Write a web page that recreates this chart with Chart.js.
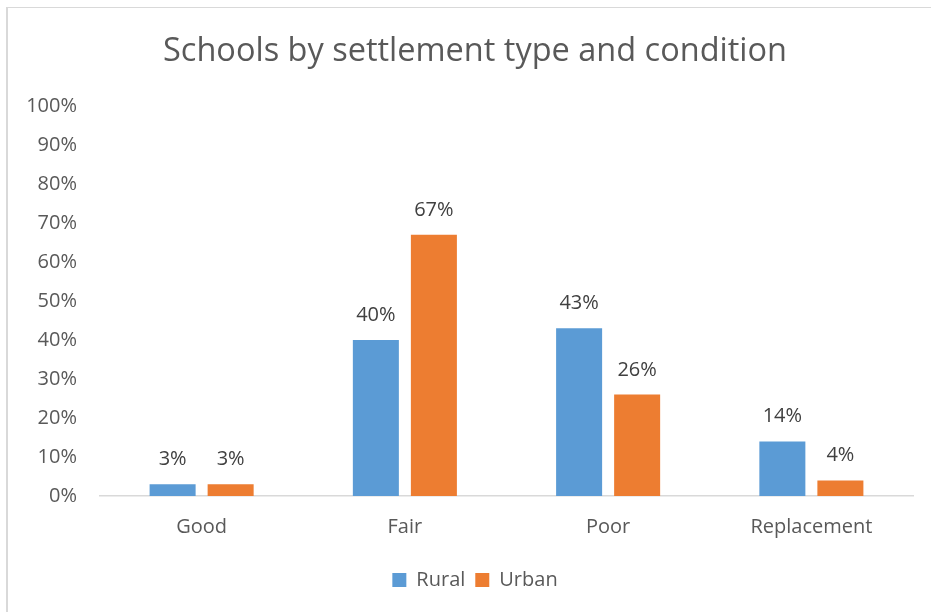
<!DOCTYPE html>
<html>
<head>
<meta charset="utf-8">
<script src="https://cdn.jsdelivr.net/npm/chart.js@4/dist/chart.umd.min.js"></script>
<style>
  html, body { margin: 0; padding: 0; background: #ffffff; overflow: hidden; }
  #frame {
    position: absolute; left: 6px; top: 7px;
    width: 934px; height: 604px;
    border-left: 2px solid #d9d9d9; border-top: 1px solid #d9d9d9;
  }
  #chart { display: block; }
</style>
</head>
<body>
<div id="frame"><canvas id="chart" width="934" height="604"></canvas></div>
<script>
const categories = ['Good', 'Fair', 'Poor', 'Replacement'];
const ruralValues = [3, 40, 43, 14];
const urbanValues = [3, 67, 26, 4];
const seriesNames = ['Rural', 'Urban'];
const yTicks = [0, 10, 20, 30, 40, 50, 60, 70, 80, 90, 100];

const FONT = "'Open Sans', sans-serif";

// Writes each bar's percentage above it
const barValueLabels = {
  id: 'barValueLabels',
  afterDatasetsDraw(chart) {
    const ctx = chart.ctx;
    ctx.save();
    ctx.font = '20px ' + FONT;
    ctx.fillStyle = '#404040';
    ctx.textAlign = 'center';
    ctx.textBaseline = 'alphabetic';
    chart.data.datasets.forEach((ds, i) => {
      chart.getDatasetMeta(i).data.forEach((bar, j) => {
        ctx.fillText(ds.data[j] + '%', bar.x, bar.y - 19);
      });
    });
    ctx.restore();
  }
};

new Chart(document.getElementById('chart'), {
  type: 'bar',
  data: {
    labels: categories,
    datasets: [
      { label: seriesNames[0], data: ruralValues, backgroundColor: '#5B9BD5', borderWidth: 0 },
      { label: seriesNames[1], data: urbanValues, backgroundColor: '#ED7D31', borderWidth: 0 }
    ]
  },
  options: {
    responsive: false,
    animation: false,
    layout: { padding: { left: 0, right: 0, top: 0, bottom: 12 } },
    categoryPercentage: 0.571,
    barPercentage: 0.793,
    plugins: {
      title: {
        display: true,
        text: 'Schools by settlement type and condition',
        color: '#595959',
        font: { family: FONT, size: 32.5, weight: 'normal' },
        padding: { top: 24.5, bottom: 34.5 }
      },
      legend: {
        position: 'bottom',
        labels: {
          color: '#595959',
          font: { family: FONT, size: 20 },
          boxWidth: 14,
          boxHeight: 14,
          padding: 10
        }
      },
      tooltip: { enabled: false }
    },
    scales: {
      x: {
        grid: { display: false },
        border: { display: true, color: '#d9d9d9', width: 1.5 },
        ticks: { color: '#595959', font: { family: FONT, size: 20 }, padding: 11 },
        afterFit(scale) { scale.height = 64; }
      },
      y: {
        min: 0,
        max: 100,
        grid: { display: false },
        border: { display: false },
        afterBuildTicks(scale) { scale.ticks = yTicks.map(v => ({ value: v })); },
        ticks: {
          color: '#595959',
          font: { family: FONT, size: 20 },
          padding: 15,
          callback: v => v + '%'
        },
        afterFit(scale) { scale.width = 92; }
      },
      // empty right-hand margin beside the plot
      yRight: {
        position: 'right',
        min: 0,
        max: 100,
        grid: { display: false },
        border: { display: false },
        ticks: { display: false },
        afterFit(scale) { scale.width = 29; }
      }
    }
  },
  plugins: [barValueLabels]
});
</script>
</body>
</html>
